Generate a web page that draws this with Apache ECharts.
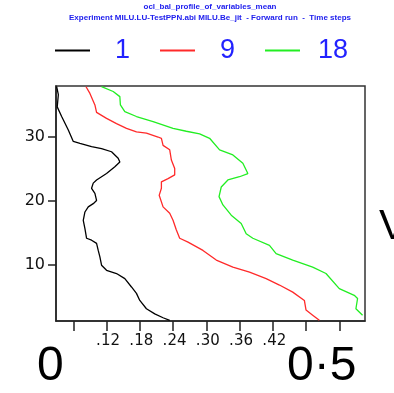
<!DOCTYPE html>
<html>
<head>
<meta charset="utf-8">
<script src="https://cdn.jsdelivr.net/npm/echarts@6/dist/echarts.min.js"></script>
<style>
  html, body { margin: 0; padding: 0; background: #fff; }
  #chart { width: 394px; height: 393px; }
</style>
</head>
<body>
<div id="chart"></div>
<script>
// Vertical profiles: value (x) against level (y) for three time steps
const seriesNames = ['1', '9', '18'];

const x1 = [0.030, 0.033, 0.031, 0.039, 0.051, 0.060, 0.072, 0.093, 0.111, 0.129, 0.141, 0.144, 0.135, 0.120, 0.102, 0.096, 0.093, 0.099, 0.102, 0.096, 0.087, 0.081, 0.078, 0.081, 0.084, 0.093, 0.102, 0.105, 0.108, 0.111, 0.120, 0.138, 0.153, 0.165, 0.174, 0.180, 0.192, 0.207, 0.222, 0.234];
const y1 = [37.75, 36.5, 34.6, 33.1, 31.0, 29.2, 28.9, 28.4, 28.1, 27.6, 26.6, 26.0, 25.25, 24.2, 23.2, 22.7, 21.9, 21.1, 20.0, 19.5, 19.0, 18.2, 16.9, 15.6, 14.1, 13.8, 13.3, 12.2, 11.2, 9.9, 9.1, 8.6, 7.8, 6.5, 5.5, 4.4, 3.1, 2.3, 1.7, 1.3];

const x9 = [0.083, 0.090, 0.099, 0.102, 0.120, 0.138, 0.156, 0.174, 0.192, 0.213, 0.219, 0.222, 0.234, 0.237, 0.243, 0.243, 0.231, 0.219, 0.219, 0.215, 0.222, 0.234, 0.240, 0.246, 0.252, 0.267, 0.270, 0.294, 0.318, 0.348, 0.378, 0.408, 0.432, 0.456, 0.477, 0.480, 0.492, 0.504];
const y9 = [37.75, 36.7, 34.9, 33.75, 32.8, 32.0, 31.25, 30.7, 30.5, 29.9, 29.7, 28.6, 27.9, 26.3, 25.0, 24.0, 23.4, 22.9, 21.9, 20.8, 19.0, 18.0, 16.9, 15.4, 14.1, 13.5, 13.3, 12.2, 10.7, 9.6, 8.8, 7.8, 6.8, 5.7, 4.4, 2.9, 2.1, 1.3];

const x18 = [0.111, 0.132, 0.144, 0.145, 0.153, 0.174, 0.204, 0.240, 0.264, 0.288, 0.306, 0.324, 0.348, 0.366, 0.375, 0.360, 0.339, 0.327, 0.323, 0.330, 0.345, 0.363, 0.372, 0.384, 0.414, 0.426, 0.456, 0.492, 0.516, 0.540, 0.567, 0.573, 0.570, 0.582];
const y18 = [37.75, 37.0, 36.2, 34.9, 33.85, 33.1, 32.3, 31.25, 30.8, 30.4, 29.7, 27.9, 27.1, 25.8, 24.2, 23.7, 23.2, 22.1, 20.6, 19.3, 17.7, 16.4, 14.8, 14.1, 13.0, 11.7, 10.7, 9.6, 8.6, 6.25, 5.2, 4.7, 3.1, 2.1];

const xTicks = [0.06, 0.12, 0.18, 0.24, 0.30, 0.36, 0.42, 0.48, 0.54];
const xTickLabels = [0.12, 0.18, 0.24, 0.30, 0.36, 0.42];
const yTicks = [10, 20, 30];

const colors = ['#000000', '#ff2a2a', '#22ee22'];
const xs = [x1, x9, x18];
const ys = [y1, y9, y18];

const pair = (xa, ya) => xa.map((v, i) => [v, ya[i]]);

const sans = 'Liberation Sans, Arial, sans-serif';
const axisFont = 'DejaVu Sans, sans-serif';

const chart = echarts.init(document.getElementById('chart'));

// one legend block per series, evenly spaced along the top
const legendLefts = [55, 160, 265];
const legendPads = [20, 20, 13];
const legends = seriesNames.map((n, i) => ({
  data: [n],
  left: legendLefts[i],
  top: 37,
  padding: 0,
  orient: 'horizontal',
  icon: 'rect',
  itemWidth: 35,
  itemHeight: 2,
  selectedMode: false,
  textStyle: {
    fontSize: 27,
    color: '#2222ff',
    fontFamily: sans,
    padding: [0, 0, 0, legendPads[i]]
  }
}));

chart.setOption({
  backgroundColor: '#ffffff',
  animation: false,
  title: {
    text: 'ocl_bal_profile_of_variables_mean',
    subtext: 'Experiment MILU.LU-TestPPN.abi MILU.Be_jit  - Forward run  -  Time steps',
    left: 210,
    textAlign: 'center',
    top: 3,
    padding: 0,
    itemGap: 3,
    textStyle: { fontSize: 8, fontWeight: 'bold', color: '#2020ee', fontFamily: sans },
    subtextStyle: { fontSize: 8, fontWeight: 'bold', color: '#2020ee', fontFamily: sans }
  },
  legend: legends,
  grid: {
    left: 56, right: 29, top: 86, bottom: 72,
    show: true, borderColor: '#333', borderWidth: 1.5, backgroundColor: 'transparent'
  },
  xAxis: {
    type: 'value',
    min: 0.0288,
    max: 0.5864,
    splitLine: { show: false },
    axisLine: { show: true, onZero: false, lineStyle: { color: '#222', width: 1.5 } },
    axisTick: { show: true, length: 10, customValues: xTicks, lineStyle: { color: '#222', width: 1.5 } },
    axisLabel: {
      customValues: xTickLabels,
      margin: 13,
      fontSize: 15,
      color: '#111',
      fontFamily: axisFont,
      padding: [0, 0, 0, 3],
      formatter: v => '.' + Math.round(v * 100).toString().padStart(2, '0')
    }
  },
  yAxis: {
    type: 'value',
    min: 1.19,
    max: 37.86,
    splitLine: { show: false },
    axisLine: { show: true, onZero: false, lineStyle: { color: '#222', width: 1.5 } },
    axisTick: { show: true, length: 8, customValues: yTicks, lineStyle: { color: '#222', width: 1.5 } },
    axisLabel: {
      customValues: yTicks,
      margin: 11,
      fontSize: 16,
      color: '#111',
      fontFamily: axisFont
    }
  },
  series: seriesNames.map((n, i) => ({
    name: n,
    type: 'line',
    data: pair(xs[i], ys[i]),
    showSymbol: false,
    symbol: 'none',
    clip: true,
    color: colors[i],
    lineStyle: { color: colors[i], width: 1.3 }
  })),
  graphic: [
    { type: 'text', left: 37, top: 343, style: { text: '0', fontSize: 48, fill: '#000', fontFamily: sans } },
    { type: 'text', left: 287, top: 343, style: { text: '0·5', fontSize: 48, fill: '#000', fontFamily: sans } },
    { type: 'text', left: 379, top: 206, style: { text: 'V', fontSize: 42, fill: '#000', fontFamily: sans } }
  ]
});
</script>
</body>
</html>
